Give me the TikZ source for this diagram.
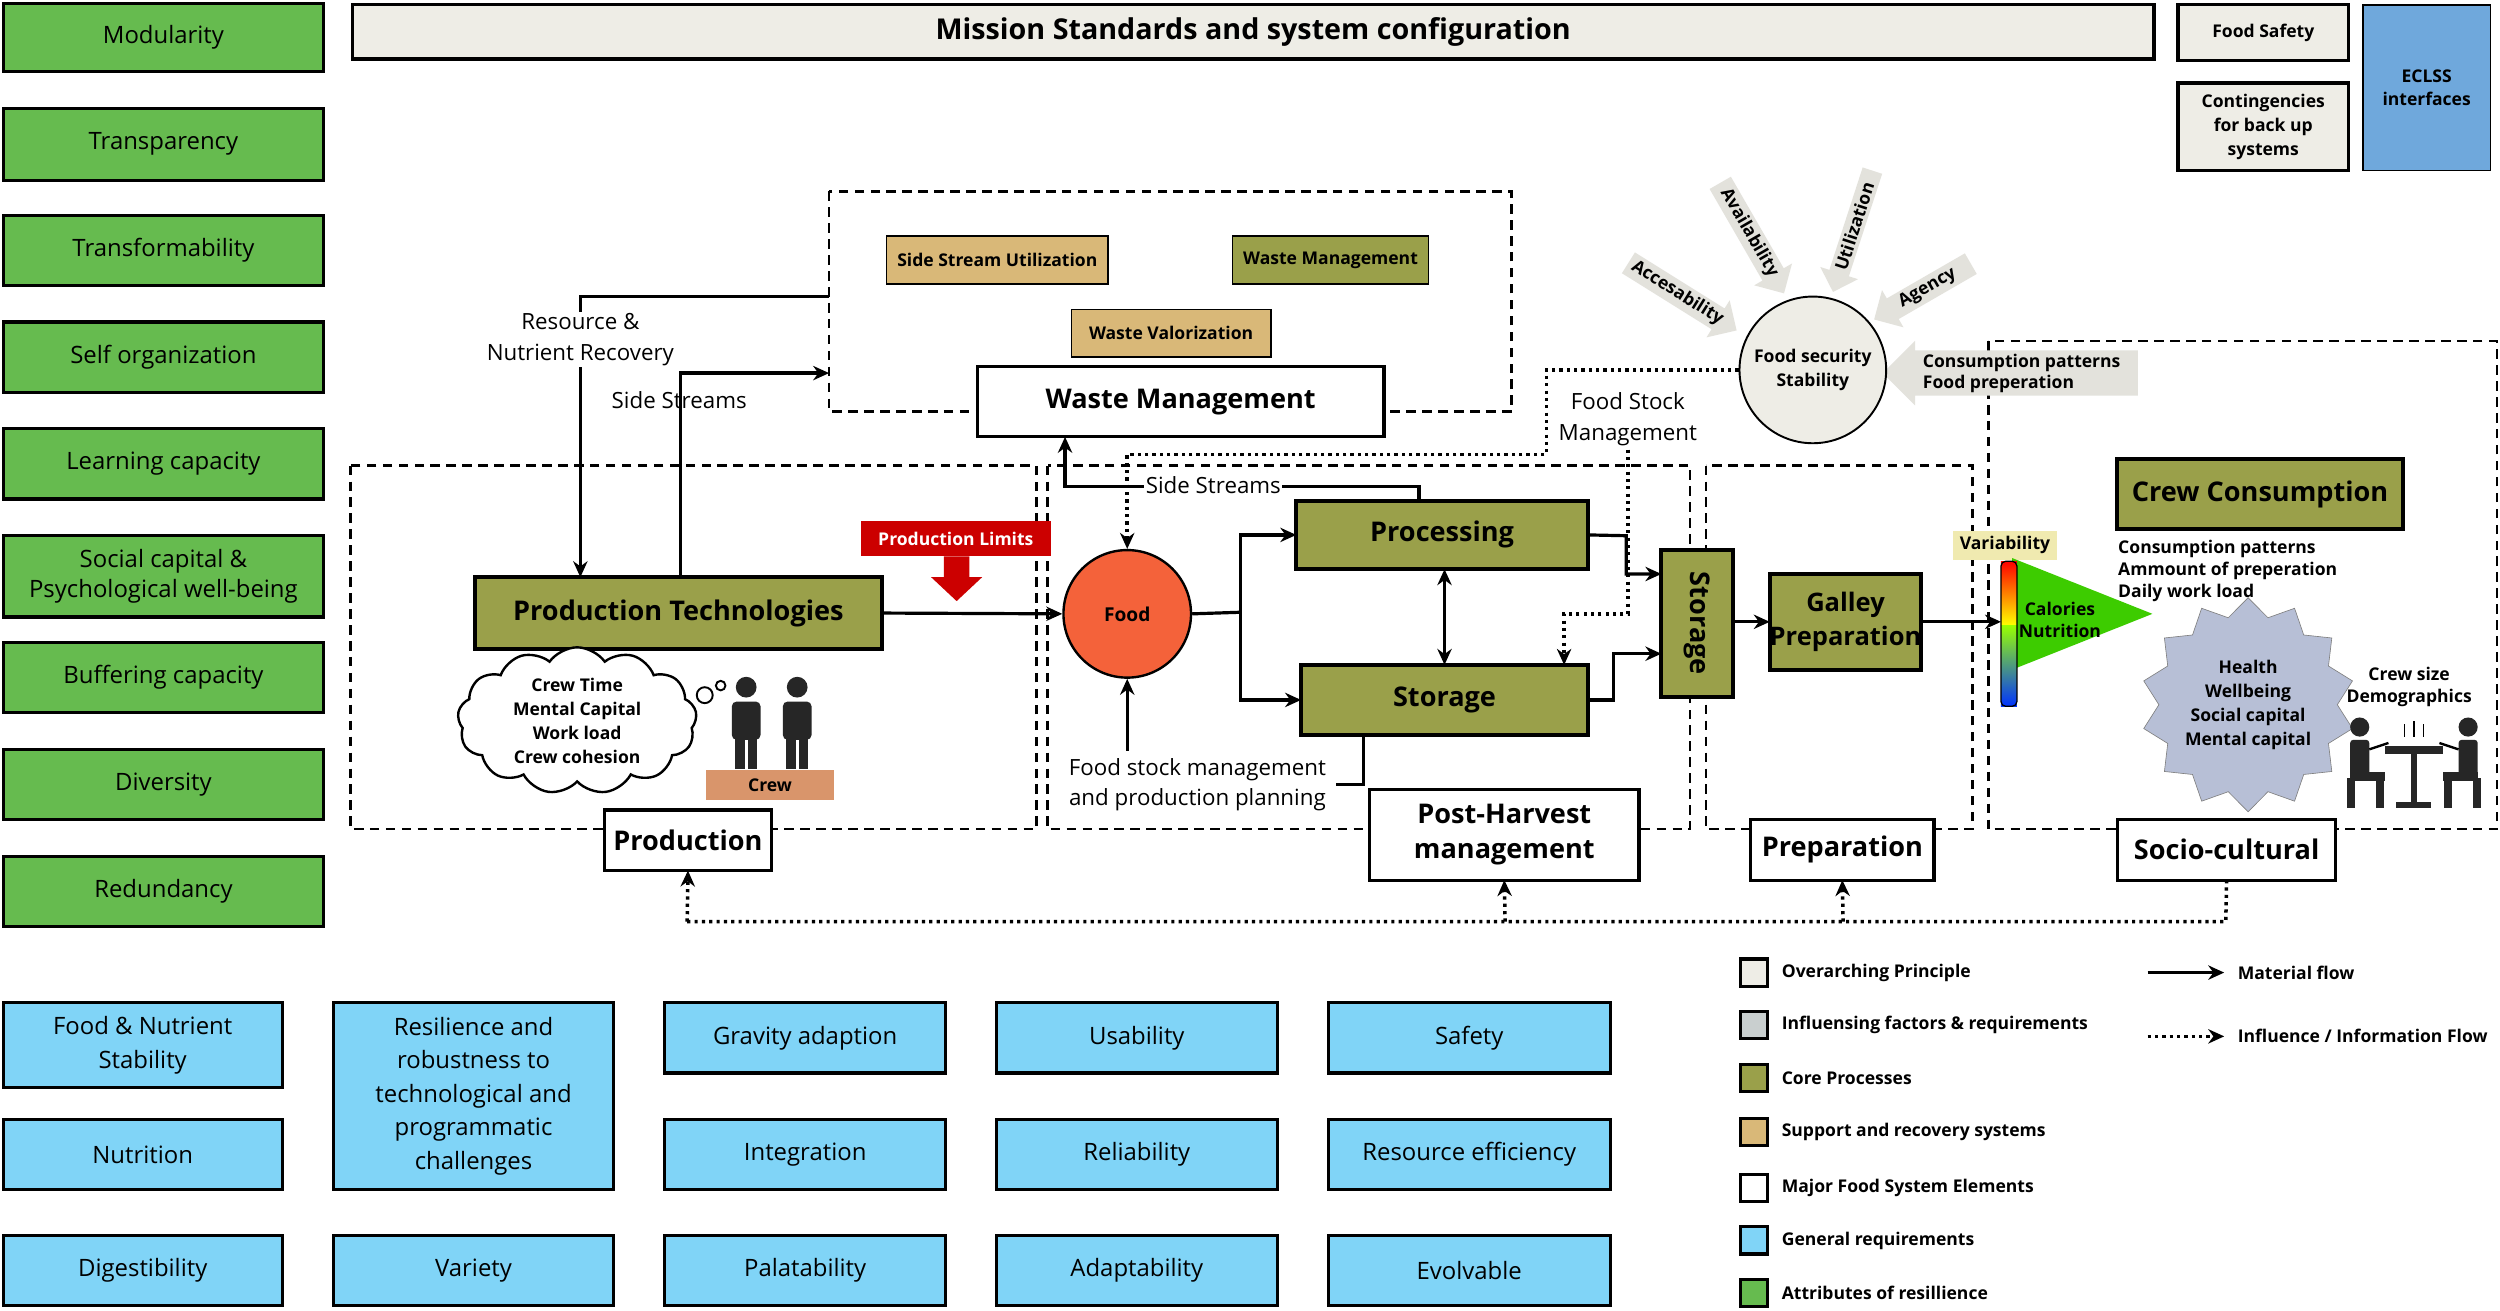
\documentclass[tikz,border=0pt]{standalone}
\usepackage{fontspec}
\setmainfont{Open Sans}
\usetikzlibrary{shapes.symbols,shapes.geometric,shapes.arrows,arrows.meta,calc}
\definecolor{resg}{HTML}{66BB4F}
\definecolor{reqb}{HTML}{80D4F7}
\definecolor{olive}{HTML}{9AA04A}
\definecolor{tan}{HTML}{D9B878}
\definecolor{ovr}{HTML}{EEEDE6}
\definecolor{infl}{HTML}{C9CFCF}
\definecolor{eclss}{HTML}{6FA8DC}
\definecolor{foodc}{HTML}{F4623A}
\definecolor{starc}{HTML}{B7BFD6}
\definecolor{varc}{HTML}{F0EAB0}
\definecolor{crewc}{HTML}{D9956B}
\newcommand\mybox[7]{\pgfmathsetmacro\ww{#4-#2}\pgfmathsetmacro\hh{#5-#3}%
\node[#6,minimum width=\ww pt,minimum height=\hh pt,inner sep=0pt,outer sep=0pt,align=center] (#1) at ({(#2+#4)/2},{(#3+#5)/2}) {#7};}
\tikzset{
 resb/.style={draw,line width=2pt,fill=resg,font=\fontsize{15}{19}\selectfont},
 reqbox/.style={draw,line width=2pt,fill=reqb,font=\fontsize{15}{21}\selectfont},
 core/.style={draw,line width=2.5pt,fill=olive,font=\fontsize{17}{22}\selectfont\bfseries},
 sup/.style={draw,line width=1pt,fill=tan,font=\fontsize{11}{13}\selectfont\bfseries},
 supo/.style={draw,line width=1pt,fill=olive,font=\fontsize{11}{13}\selectfont\bfseries},
 major/.style={draw,line width=2pt,fill=white,font=\fontsize{17}{22}\selectfont\bfseries},
 ovbox/.style={draw,line width=2pt,fill=ovr,font=\fontsize{11}{15}\selectfont\bfseries},
 dbox/.style={draw,line width=1.6pt,dash pattern=on 6pt off 4pt},
 flow/.style={line width=2pt,-{Stealth[length=10pt,width=9pt]}},
 infl/.style={line width=2.2pt,dash pattern=on 2pt off 2.6pt,-{Stealth[length=10pt,width=9pt]}},
 lbl/.style={font=\fontsize{14}{19}\selectfont,align=center},
 fsa/.style={single arrow,fill=ovr!90!gray,draw=none,minimum height=80pt,single arrow head extend=6pt,inner sep=2pt,font=\fontsize{11}{13}\selectfont\bfseries},
 small/.style={font=\fontsize{11}{14}\selectfont\bfseries,align=left},
}
\begin{document}
\begin{tikzpicture}[x=1pt,y=-1pt]
\useasboundingbox[fill=white] (0,0) rectangle (1568,822);
% left resilience boxes
\mybox{r1}{2}{2}{203}{45}{resb}{Modularity}
\mybox{r2}{2}{68}{203}{113}{resb}{Transparency}
\mybox{r3}{2}{135}{203}{179}{resb}{Transformability}
\mybox{r4}{2}{202}{203}{246}{resb}{Self organization}
\mybox{r5}{2}{269}{203}{313}{resb}{Learning capacity}
\mybox{r6}{2}{336}{203}{387}{resb}{Social capital \&\\Psychological well-being}
\mybox{r7}{2}{403}{203}{447}{resb}{Buffering capacity}
\mybox{r8}{2}{470}{203}{514}{resb}{Diversity}
\mybox{r9}{2}{537}{203}{581}{resb}{Redundancy}
% top
\mybox{mission}{221}{3}{1351}{37}{draw,line width=2pt,fill=ovr,font=\fontsize{18}{22}\selectfont\bfseries}{Mission Standards and system configuration}
\mybox{fsafe}{1366}{3}{1473}{38}{ovbox}{Food Safety}
\mybox{cont}{1366}{52}{1473}{107}{ovbox}{Contingencies\\for back up\\systems}
\mybox{eclss}{1482}{3}{1562}{107}{draw,line width=1pt,fill=eclss,font=\fontsize{11}{15}\selectfont\bfseries}{ECLSS\\interfaces}
% dashed groups
\draw[dbox] (520,120) rectangle (948,258);
\draw[dbox] (220,292) rectangle (650,520);
\draw[dbox] (657,292) rectangle (1060,520);
\draw[dbox] (1070,292) rectangle (1237,520);
\draw[dbox] (1247,214) rectangle (1566,520);
% waste
\mybox{ssu}{556}{148}{695}{178}{sup}{Side Stream Utilization}
\mybox{wms}{773}{148}{896}{178}{supo}{Waste Management}
\mybox{wv}{672}{194}{797}{224}{sup}{Waste Valorization}
\mybox{wm}{613}{230}{868}{274}{major}{Waste Management}
% production
\mybox{pt}{298}{362}{553}{407}{core}{Production Technologies}
\node[cloud,cloud puffs=13,cloud puff arc=110,draw,line width=1.5pt,fill=white,minimum width=150pt,minimum height=92pt,aspect=1.6,align=center,font=\fontsize{11}{15}\selectfont\bfseries,inner sep=0pt] (cloud) at (362,452) {Crew Time\\Mental Capital\\Work load\\Crew cohesion};
\draw[line width=1.2pt] (442,436) circle (5);
\draw[line width=1.2pt] (452,430) circle (3);
\foreach \px in {468,500}{
 \fill[black!85] (\px,431) circle (6.5);
 \fill[black!85,rounded corners=3pt] (\px-9,440) rectangle (\px+9,464);
 \fill[black!85] (\px-7,460) rectangle (\px-1,482);
 \fill[black!85] (\px+1,460) rectangle (\px+7,482);
}
\mybox{crew}{443}{483}{523}{502}{fill=crewc,font=\fontsize{11}{13}\selectfont\bfseries}{Crew}
\mybox{prod}{379}{508}{484}{546}{major}{Production}
\mybox{plim}{540}{327}{659}{349}{fill=red!80!black,text=white,font=\fontsize{11}{13}\selectfont\bfseries}{Production Limits}
\fill[red!80!black] (592,349) -- (608,349) -- (608,362) -- (616,362) -- (600,377) -- (584,362) -- (592,362) -- cycle;
\node[circle,draw,line width=1.5pt,fill=foodc,minimum size=80pt,inner sep=0pt,font=\fontsize{12}{14}\selectfont\bfseries] (food) at (707,385) {Food};
\mybox{proc}{813}{314}{996}{357}{core}{Processing}
\mybox{stor}{816}{417}{996}{461}{core}{Storage}
\mybox{vstor}{1042}{345}{1087}{437}{core}{}
\node[rotate=-90,font=\fontsize{17}{22}\selectfont\bfseries] at (vstor) {Storage};
\mybox{galley}{1112}{360}{1203}{420}{core,font=\fontsize{16}{21}\selectfont\bfseries}{Galley\\Preparation}
\mybox{post}{859}{495}{1028}{552}{major}{Post-Harvest\\management}
\mybox{prep}{1098}{514}{1213}{552}{major}{Preparation}
\mybox{socio}{1328}{514}{1465}{552}{major}{Socio-cultural}
% food security
\node[fsa,rotate=-32] at (1052,184) {Accesability};
\node[fsa,rotate=-60] at (1097,146) {Availability};
\node[fsa,rotate=72,shape border rotate=180] at (1163,142) {Utilization};
\node[fsa,rotate=30,shape border rotate=180,minimum height=70pt] at (1209,181) {Agency};
\node[fsa,shape border rotate=180,minimum height=160pt,align=left,font=\fontsize{11}{13}\selectfont\bfseries] at (1268,234) {Consumption patterns\\Food preperation};
\node[circle,draw,line width=1.2pt,fill=ovr,minimum size=92pt,inner sep=0pt,align=center,font=\fontsize{11}{15}\selectfont\bfseries] (fs) at (1137,232) {Food security\\Stability};
% socio-cultural
\mybox{cc}{1328}{288}{1507}{332}{core}{Crew Consumption}
\node[small,anchor=north west] at (1325,335) {Consumption patterns\\Ammount of preperation\\Daily work load};
\mybox{var}{1225}{333}{1290}{351}{fill=varc,font=\fontsize{11}{13}\selectfont\bfseries}{Variability}
\fill[green!60!lime!80!black] (1262,350) -- (1350,385) -- (1262,420) -- cycle;
\shade[top color=red,bottom color=yellow] (1255,352) rectangle (1265,392);
\shade[top color=yellow!60!green,bottom color=blue!80!cyan] (1255,392) rectangle (1265,443);
\draw[line width=0.8pt,rounded corners=3pt] (1255,352) rectangle (1265,443);
\node[small,align=center] at (1292,389) {Calories\\Nutrition};
\node[star,star points=14,star point ratio=1.2,fill=starc,draw=black!50,minimum size=100pt,inner sep=0pt,align=center,font=\fontsize{11}{15}\selectfont\bfseries] (star) at (1410,442) {Health\\Wellbeing\\Social capital\\Mental capital};
\node[small,align=center] at (1511,431) {Crew size\\Demographics};
% dining icon
\fill[black!85] (1480,456) circle (6);
\fill[black!85] (1548,456) circle (6);
\fill[black!85,rounded corners=2pt] (1474,464) rectangle (1486,488);
\fill[black!85,rounded corners=2pt] (1542,464) rectangle (1554,488);
\fill[black!85] (1474,484) rectangle (1496,490);
\fill[black!85] (1532,484) rectangle (1554,490);
\fill[black!85] (1490,488) rectangle (1495,507);
\fill[black!85] (1533,488) rectangle (1538,507);
\fill[black!85] (1472,488) rectangle (1477,507);
\fill[black!85] (1551,488) rectangle (1556,507);
\fill[black!85] (1496,468) rectangle (1532,473);
\fill[black!85] (1512,473) rectangle (1516,505);
\fill[black!85] (1503,503) rectangle (1525,507);
\draw[line width=1.5pt] (1486,470) -- (1498,466);
\draw[line width=1.5pt] (1542,470) -- (1530,466);
\draw[line width=1pt] (1508,462) -- (1508,454) (1514,462) -- (1514,452) (1520,462) -- (1520,454);
% connectors
\coordinate (rr) at (364,186);
\coordinate (wl) at (520,186);
\draw[flow] (wl) -- (rr) -- (pt.north -| rr);
\node[lbl,fill=white,inner sep=1pt] at (364,213) {Resource \&\\Nutrient Recovery};
\draw[flow] (pt.north -| 427,0) -- (427,234) -- (520,234);
\node[lbl] at (426,251) {Side Streams};
\draw[flow] (pt.east) -- (food.west);
\draw[line width=2pt] (food.east) -- (778,384);
\draw[flow] (778,384) |- (proc.west);
\draw[flow] (778,384) |- (stor.west);
\draw[line width=2pt,{Stealth[length=10pt,width=9pt]}-{Stealth[length=10pt,width=9pt]}] (proc.south -| 906,0) -- (stor.north -| 906,0);
\draw[line width=2pt] (stor.south -| 855,0) -- (855,492) -- (838,492);
\node[lbl] (fsm) at (751,492) {Food stock management\\and production planning};
\draw[flow] (707,471) -- (food.south);
\draw[flow] (proc.north -| 890,0) -- (890,305) -- (668,305) -- (wm.south -| 668,0);
\node[lbl,fill=white,inner sep=1pt] at (761,304) {Side Streams};
\draw[infl] (fs.west) -- (970,232) -- (970,285) -- (707,285) -- (food.north);
\node[lbl,fill=white,inner sep=1pt] at (1021,263) {Food Stock\\Management};
\draw[infl] (1021,282) -- (1021,385) -- (981,385) -- (stor.north -| 981,0);
\draw[flow] (proc.east) -- (1020,336) -- (1020,360) -- (vstor.west |- 0,360);
\draw[flow] (stor.east) -- (1012,439) -- (1012,410) -- (vstor.west |- 0,410);
\draw[flow] (vstor.east |- galley.west) -- (galley.west);
\draw[flow] (galley.east) -- (1255,390);
\draw[infl,-] (socio.south) -- (1396,578) -- (431,578);
\draw[infl] (431,578) -- (prod.south);
\draw[infl] (944,578) -- (post.south);
\draw[infl] (1156,578) -- (prep.south);
% bottom requirements
\mybox{q1}{2}{629}{177}{682}{reqbox}{Food \& Nutrient\\Stability}
\mybox{q2}{2}{702}{177}{746}{reqbox}{Nutrition}
\mybox{q3}{2}{775}{177}{819}{reqbox}{Digestibility}
\mybox{q4}{209}{629}{385}{746}{reqbox}{Resilience and\\robustness to\\technological and\\programmatic\\challenges}
\mybox{q5}{209}{775}{385}{819}{reqbox}{Variety}
\mybox{q6}{417}{629}{593}{673}{reqbox}{Gravity adaption}
\mybox{q7}{417}{702}{593}{746}{reqbox}{Integration}
\mybox{q8}{417}{775}{593}{819}{reqbox}{Palatability}
\mybox{q9}{625}{629}{801}{673}{reqbox}{Usability}
\mybox{q10}{625}{702}{801}{746}{reqbox}{Reliability}
\mybox{q11}{625}{775}{801}{819}{reqbox}{Adaptability}
\mybox{q12}{833}{629}{1010}{673}{reqbox}{Safety}
\mybox{q13}{833}{702}{1010}{746}{reqbox}{Resource efficiency}
\mybox{q14}{833}{775}{1010}{819}{reqbox}{Evolvable}
% legend
\foreach \y/\c/\t [count=\i] in {610/ovr/Overarching Principle,643/infl/Influensing factors \& requirements,676/olive/Core Processes,710/tan/Support and recovery systems,745/white/Major Food System Elements,778/reqb/General requirements,811/resg/Attributes of resillience}{
 \node[draw,line width=2pt,fill=\c,minimum size=17pt,inner sep=0pt] (lg\i) at (1100,\y) {};
 \node[small,anchor=west] at (1114,\y) {\t};
}
\coordinate (ma) at (1347,610); \coordinate (mb) at (1395,610);
\draw[flow] (ma) -- (mb);
\node[small,anchor=west] at (1400,610) {Material flow};
\coordinate (ia) at (1347,650); \coordinate (ib) at (1395,650);
\draw[infl] (ia) -- (ib);
\node[small,anchor=west] at (1400,650) {Influence / Information Flow};
\end{tikzpicture}
\end{document}
